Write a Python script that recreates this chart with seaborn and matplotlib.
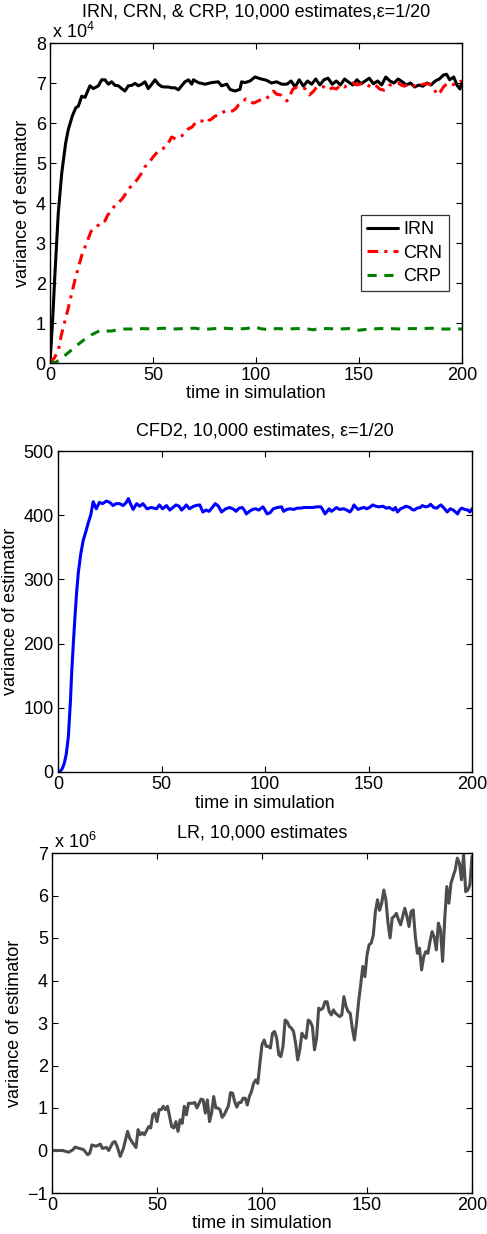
"""
three panels of estimator variance vs simulation time (IRN/CRN/CRP, CFD2, LR)
"""

import matplotlib
matplotlib.use("Agg")
import matplotlib.pyplot as plt
import seaborn as sns

# ---- panel 1: IRN, CRN, CRP (units of 1e4) ----
irn_time = [0, 1.2, 2.4, 4.0, 5.7, 7.6, 8.9, 10.8, 12.5, 13.75, 15.4, 17.0, 19.4, 21.0,
            23.5, 25.1, 26.7, 28.3, 29.9, 31.6, 33.2, 34.8, 36.4, 38.0, 39.6, 41.3, 42.9,
            44.5, 46.1, 47.7, 49.4, 51.0, 52.6, 54.2, 55.8, 57.4, 59.1, 60.7, 62.3, 63.9,
            65.5, 67.2, 68.8, 69.6, 72.0, 75.2, 78.5, 81.7, 83.3, 85.8, 87.4, 89.8, 92.2,
            93.0, 94.7, 97.1, 99.5, 102.5, 105, 107.5, 110, 112.5, 115, 117, 119, 121,
            123, 125, 127, 129, 131, 133, 135, 137, 139, 141, 143, 145, 147, 149, 151,
            153, 155, 157, 159, 161, 163, 165, 167, 169, 171, 173, 175, 177, 179, 181,
            183, 185, 187, 189, 191, 192.5, 194, 196, 197.5, 199, 200]
irn_var = [0, 1.0, 2.23, 3.74, 4.75, 5.5, 5.84, 6.17, 6.38, 6.42, 6.67, 6.64, 6.93, 6.86,
           6.93, 7.08, 7.08, 6.97, 7.03, 6.94, 6.93, 6.86, 6.80, 6.93, 6.94, 6.99, 6.93,
           6.97, 7.03, 6.86, 6.97, 7.08, 6.97, 6.91, 6.90, 6.90, 6.88, 6.88, 6.83, 6.93,
           7.03, 7.08, 6.97, 7.08, 7.01, 6.97, 7.01, 7.03, 6.93, 6.97, 6.84, 6.80, 6.84,
           7.03, 7.01, 7.05, 7.15, 7.10, 7.07, 7.0, 7.03, 6.97, 6.97, 7.05, 6.9, 7.08,
           6.92, 7.05, 6.97, 7.1, 6.95, 7.08, 7.12, 6.97, 7.05, 6.95, 7.1, 7.02, 6.95,
           7.08, 6.98, 7.05, 7.12, 6.98, 7.05, 6.95, 7.15, 7.05, 7.0, 7.1, 7.03, 6.95,
           7.0, 6.9, 6.95, 6.92, 7.0, 6.95, 7.05, 7.1, 7.2, 7.22, 7.08, 7.15, 6.95,
           6.85, 7.02]

crn_time = [0, 2, 4, 5.5, 7.3, 9, 10.5, 12, 13.8, 15.5, 17, 18.5, 20, 21.5, 23.5, 25,
            26.7, 28, 30, 31.5, 33, 35, 37, 39, 41, 42.5, 44.5, 46, 48, 50, 52.6, 54.5,
            56, 58, 59, 61, 62.5, 64, 65.5, 67, 69, 70.5, 72, 74, 76, 77, 78.5, 80, 82,
            83.5, 85, 87, 88.5, 90, 91.5, 93, 95, 97, 99, 101, 103, 105, 107, 108.5,
            110, 112, 114, 115, 116.5, 118, 120, 122, 124, 126, 128, 129.5, 131, 133,
            135, 137, 139, 141, 143, 145, 147, 149, 151, 152.5, 154, 156, 158, 160, 162,
            163.5, 165, 167, 169, 170.5, 172, 174, 176, 178, 180, 182, 184, 186, 188,
            189.5, 191, 193, 195, 197, 199, 200]
crn_var = [0, 0.12, 0.3, 0.7, 1.06, 1.4, 1.73, 2.05, 2.4, 2.7, 2.9, 3.1, 3.3, 3.35, 3.45,
           3.55, 3.55, 3.7, 3.8, 3.95, 4.0, 4.1, 4.25, 4.4, 4.5, 4.6, 4.75, 4.9, 5.0,
           5.15, 5.3, 5.35, 5.4, 5.55, 5.65, 5.6, 5.65, 5.68, 5.75, 5.85, 5.9, 6.0, 6.06,
           6.05, 6.0, 6.06, 6.1, 6.17, 6.2, 6.25, 6.3, 6.28, 6.3, 6.35, 6.45, 6.5, 6.6,
           6.52, 6.5, 6.55, 6.6, 6.6, 6.73, 6.8, 6.72, 6.7, 6.6, 6.55, 6.7, 6.85, 6.9,
           6.9, 6.85, 6.7, 6.8, 6.9, 6.93, 6.9, 6.82, 6.88, 6.85, 6.95, 6.9, 6.97, 7.0,
           6.95, 6.98, 7.0, 6.95, 6.9, 6.95, 6.85, 6.82, 6.85, 6.95, 6.98, 7.0, 6.95,
           6.92, 6.98, 6.95, 6.9, 6.95, 6.98, 6.98, 6.9, 6.7, 6.78, 6.9, 7.0, 6.97, 6.95,
           7.03, 7.05]

crp_time = [0, 3, 5, 8, 11, 14, 17, 20, 23, 25, 28, 30, 35, 40, 45, 50, 55, 60, 65, 70,
            75, 80, 85, 90, 95, 100, 102, 105, 110, 115, 120, 125, 128, 130, 135, 140,
            145, 150, 155, 160, 165, 170, 175, 180, 185, 190, 195, 200]
crp_var = [0, 0.02, 0.1, 0.22, 0.35, 0.48, 0.6, 0.7, 0.78, 0.82, 0.8, 0.8, 0.85, 0.85,
           0.86, 0.85, 0.87, 0.85, 0.86, 0.87, 0.84, 0.86, 0.87, 0.85, 0.86, 0.9, 0.86,
           0.84, 0.86, 0.85, 0.86, 0.85, 0.83, 0.86, 0.86, 0.85, 0.86, 0.82, 0.85, 0.86,
           0.86, 0.85, 0.86, 0.86, 0.87, 0.85, 0.85, 0.85]

# ---- panel 2: CFD2 ----
cfd_time = [0, 1, 2, 3, 4, 5, 6, 6.6, 7.4, 8.2, 9, 9.8, 11, 12.2, 13.5, 14.6, 15.8, 17,
            18.5, 20, 21.5, 23.4, 25, 26.6, 28, 29.8, 31.5, 33, 34, 35, 36.3, 38, 39.5,
            41, 43, 45, 47.6, 49, 50.5, 52.4, 54, 55.5, 57, 58.5, 59.7, 61, 62, 63.5, 65,
            66.5, 68.5, 70, 71.5, 73, 74.5, 76, 77.5, 79, 81, 83, 85, 86, 87.5, 89, 90,
            91, 92.5, 94, 95.5, 97, 99, 100, 101, 102.5, 104, 106, 108, 109, 110.5, 112,
            114, 115.5, 117, 119, 121, 123, 125, 127, 128, 129, 130, 131, 132, 133, 134.5,
            136, 138, 139.5, 141, 142, 143, 144, 145, 146.5, 148, 149, 150.5, 152, 153.5,
            155, 157, 158.5, 160, 161.5, 162, 163, 164, 165.5, 167, 168, 170, 171, 172,
            173.5, 175, 176, 177.5, 179, 180, 181.5, 183, 184, 185, 186.5, 188, 189.5,
            191, 192, 193, 194, 195, 196.5, 198, 199, 200]
cfd_var = [0, 1, 5, 13, 28, 55, 110, 154, 200, 242, 280, 310, 340, 361, 375, 388, 400,
           421, 410, 420, 418, 422, 420, 415, 418, 418, 415, 420, 426, 418, 409, 418, 414,
           418, 410, 412, 410, 416, 410, 415, 408, 412, 416, 414, 408, 412, 416, 410, 413,
           415, 416, 405, 408, 406, 412, 418, 414, 405, 410, 412, 409, 406, 411, 412, 408,
           402, 406, 409, 410, 408, 413, 408, 402, 404, 410, 412, 413, 406, 409, 410, 409,
           411, 411, 412, 412, 412, 413, 413, 408, 402, 406, 410, 406, 408, 412, 409, 410,
           408, 405, 409, 416, 412, 409, 411, 412, 410, 412, 416, 414, 413, 414, 411, 412,
           409, 408, 412, 405, 410, 412, 414, 412, 409, 408, 411, 412, 415, 413, 414, 417,
           412, 411, 414, 416, 411, 405, 410, 408, 405, 402, 408, 411, 409, 408, 405, 410]

# ---- panel 3: LR (units of 1e6) ----
lr_time = [0, 2, 5, 8, 10, 11, 13, 15, 17, 18, 19, 21, 23, 24, 26, 27, 29, 30, 31, 32.5,
           34, 36, 37, 38, 40, 41, 42, 43, 44, 46, 47, 48, 49, 50, 51, 52, 53, 54, 55,
           56, 57, 58, 59, 60, 61, 62, 63, 64, 65, 67, 68, 69, 71, 72, 73, 74, 75, 76,
           77, 78, 79, 80, 81, 82, 84, 85, 86, 87, 88, 89, 90, 91, 92, 93, 94, 95, 96,
           97, 98, 99, 100, 101, 102, 103, 104, 105, 106, 107, 108, 109, 110, 111, 112,
           113, 114, 115, 116, 117, 118, 119, 120, 121, 122, 123, 124, 125, 126, 127,
           128, 129, 130, 131, 132, 133, 134, 135, 136, 137, 138, 139, 140, 141, 142,
           143, 144, 145, 146, 147, 148, 149, 150, 151, 152, 153, 154, 155, 156, 157,
           158, 159, 160, 161, 162, 163, 164, 165, 166, 167, 168, 169, 170, 171, 172,
           173, 174, 175, 176, 177, 178, 179, 180, 181, 182, 183, 184, 185, 186, 187,
           188, 189, 190, 191, 192, 193, 194, 195, 196, 197, 198, 199, 200]
lr_var = [0, 0, 0, -0.04, 0.02, 0.08, 0.05, 0.02, -0.1, -0.06, 0.13, 0.1, 0.15, 0.05,
          0.07, 0, 0.19, 0.21, 0.1, -0.14, 0.05, 0.45, 0.29, 0.21, 0.07, 0.49, 0.37, 0.42,
          0.37, 0.56, 0.53, 0.84, 0.88, 0.68, 0.96, 0.96, 1.04, 0.96, 1.04, 0.8, 0.56,
          0.53, 0.68, 0.45, 0.72, 0.64, 1.04, 0.84, 1.11, 1.11, 1.13, 1.0, 1.21, 1.19,
          0.88, 1.19, 0.68, 0.88, 1.27, 1.0, 1.0, 0.96, 0.78, 0.84, 1.05, 1.36, 1.35,
          1.15, 1.02, 1.13, 1.13, 1.23, 1.23, 1.07, 1.27, 1.39, 1.58, 1.66, 1.58, 2.05,
          2.49, 2.6, 2.45, 2.45, 2.41, 2.76, 2.8, 2.64, 2.25, 2.21, 2.45, 3.07, 3.03,
          2.92, 2.88, 2.8, 2.53, 2.13, 2.37, 2.76, 2.68, 2.64, 3.07, 3.03, 2.92, 2.37,
          2.64, 3.35, 3.31, 3.35, 3.5, 3.5, 3.27, 3.19, 3.31, 3.23, 3.19, 3.15, 3.19,
          3.62, 3.39, 3.27, 3.23, 2.88, 2.6, 2.99, 3.5, 3.9, 4.33, 4.09, 4.6, 4.84, 4.88,
          5.07, 5.62, 5.9, 5.65, 5.82, 6.13, 5.9, 5.35, 5.0, 5.47, 5.51, 5.58, 5.43,
          5.31, 5.51, 5.7, 5.51, 5.27, 5.62, 5.66, 5.04, 4.64, 4.76, 4.25, 4.56, 4.68,
          4.64, 4.92, 5.15, 5.02, 4.72, 5.35, 5.19, 4.45, 5.43, 6.21, 5.82, 6.29, 6.45,
          6.6, 6.88, 6.76, 6.37, 6.96, 6.09, 6.13, 6.25, 6.92]

sns.set_style("ticks", {"axes.edgecolor": "black", "xtick.color": "black",
                        "ytick.color": "black", "text.color": "black",
                        "axes.labelcolor": "black"})
plt.rcParams["font.family"] = ["Liberation Sans", "DejaVu Sans"]
plt.rcParams["mathtext.default"] = "regular"

FS = 13
W, H = 487, 1234

fig = plt.figure(figsize=(W / 100, H / 100), dpi=100)


def make_axes(l, t, r, b):
    # pixel box -> figure fraction
    return fig.add_axes([l / W, 1 - b / H, (r - l) / W, (b - t) / H])


def style_axes(ax, title, title_off, ylab_off, xlab_off, xlim, ylim, yticks, box_h, box_w):
    ax.set_xlim(*xlim)
    ax.set_ylim(*ylim)
    ax.set_xticks([0, 50, 100, 150, 200])
    ax.set_yticks(yticks)
    ax.tick_params(direction="in", top=True, right=True, length=4, width=0.8,
                   labelsize=FS, pad=3)
    for s in ax.spines.values():
        s.set_linewidth(1.0)
        s.set_color("black")
    ax.text(0.5, 1 + title_off / box_h, title, transform=ax.transAxes,
            ha="center", va="center", fontsize=FS)
    ax.set_xlabel("time in simulation", fontsize=FS)
    ax.xaxis.label.set_va("center")
    ax.xaxis.set_label_coords(0.5, -xlab_off / box_h)
    ax.set_ylabel("variance of estimator", fontsize=FS)
    ax.yaxis.label.set_va("center")
    ax.yaxis.set_label_coords(-ylab_off / box_w, 0.5)


# panel 1
ax1 = make_axes(50, 43, 462, 363)
sns.lineplot(x=irn_time, y=irn_var, ax=ax1, color="black", linewidth=2.2, label="IRN")
sns.lineplot(x=crn_time, y=crn_var, ax=ax1, color="red", linewidth=2.2,
             linestyle=(0, (3.5, 2, 1, 2)), label="CRN")
sns.lineplot(x=crp_time, y=crp_var, ax=ax1, color="#008000", linewidth=2.2,
             linestyle=(0, (3, 2.5)), label="CRP")
style_axes(ax1, "IRN, CRN, & CRP, 10,000 estimates,\u03b5=1/20", 31, 27, 30,
           (0, 200), (0, 8), range(0, 9), 320, 412)
ax1.text(0.005, 1.003, r"x 10$^{4}$", transform=ax1.transAxes, ha="left", va="bottom",
         fontsize=FS)
leg = ax1.legend(loc="upper right", bbox_to_anchor=(0.968, 0.4625), borderaxespad=0,
                 fontsize=FS, frameon=True, fancybox=False, handlelength=1.7,
                 handletextpad=0.3, borderpad=0.35, labelspacing=0.35)
leg.get_frame().set_edgecolor("black")
leg.get_frame().set_linewidth(0.9)

# panel 2
ax2 = make_axes(58, 451, 472, 772)
sns.lineplot(x=cfd_time, y=cfd_var, ax=ax2, color="blue", linewidth=2.2)
style_axes(ax2, "CFD2, 10,000 estimates, \u03b5=1/20", 20, 47, 31,
           (0, 200), (0, 500), range(0, 501, 100), 321, 414)

# panel 3
ax3 = make_axes(52, 853, 472, 1193)
sns.lineplot(x=lr_time, y=lr_var, ax=ax3, color="#4d4d4d", linewidth=2.2)
style_axes(ax3, "LR, 10,000 estimates", 20, 37, 31,
           (0, 200), (-1, 7), range(-1, 8), 340, 420)
ax3.text(0.005, 1.003, r"x 10$^{6}$", transform=ax3.transAxes, ha="left", va="bottom",
         fontsize=FS)

fig.savefig("out.png", dpi=100)
